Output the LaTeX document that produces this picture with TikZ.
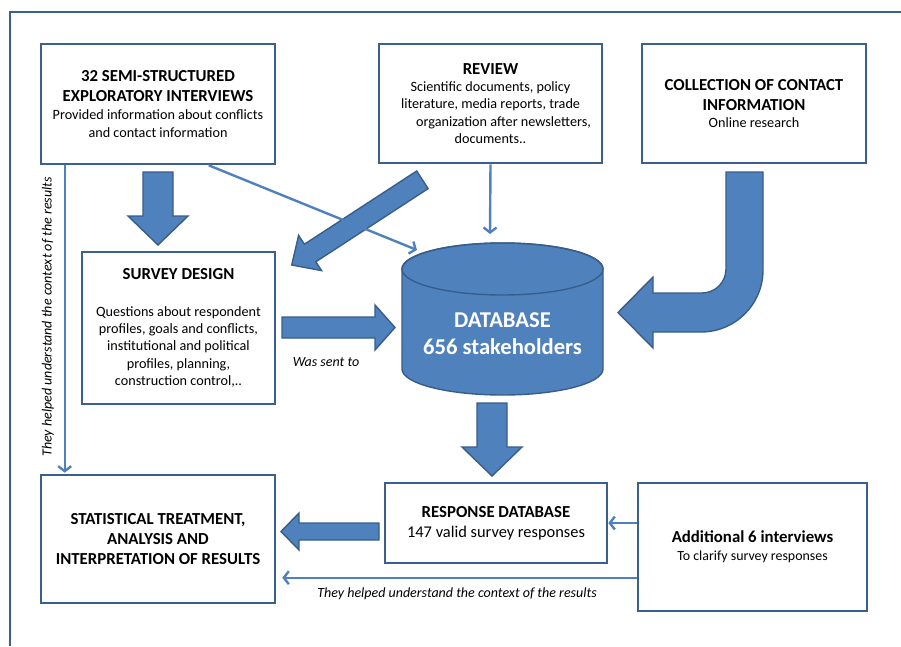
\documentclass[tikz,border=0pt]{standalone}
\usepackage{fontspec}
\setmainfont{Carlito}
\usetikzlibrary{arrows.meta,calc}
\definecolor{fillb}{HTML}{4F81BD}
\definecolor{edgeb}{HTML}{385D8A}
\definecolor{boxb}{HTML}{3C5F8E}
\newcommand\boxtitle{\bfseries\fontsize{16.8}{20}\selectfont}
\newcommand\boxbody{\mdseries\fontsize{14.2}{17.4}\selectfont}
\begin{document}
\begin{tikzpicture}[x=1pt,y=-1pt,
  box/.style={draw=boxb, line width=2.6pt, fill=white, align=center, inner sep=2pt, font=\boxbody},
  blockarr/.style={fill=fillb, draw=edgeb, line width=1.4pt, line join=miter},
  thinarr/.style={draw=fillb, line width=2.4pt, -{Straight Barb[length=5pt,width=13pt]}},
  lbl/.style={font=\fontsize{14}{16}\selectfont\itshape, inner sep=0pt}]
\useasboundingbox (0,0) rectangle (901,646);
% frame
\draw[boxb, line width=2.4pt] (10,646) -- (10,12) -- (901,12);

% boxes
\node[box, minimum width=234pt, minimum height=120pt] (intv) at (158,104)
  {{\boxtitle 32 SEMI-STRUCTURED}\\[2.5pt] {\boxtitle EXPLORATORY INTERVIEWS}\\[1pt] Provided information about conflicts\\ and contact information};
\node[box, minimum width=223pt, minimum height=119pt] (review) at (490.5,103.5)
  {{\boxtitle REVIEW}\\ Scientific documents, policy\\ literature, media reports, trade\\ \hspace*{26pt}organization after newsletters,\\ documents..};
\node[box, minimum width=224pt, minimum height=119pt] (contact) at (754,103.5)
  {{\boxtitle COLLECTION OF CONTACT}\\[2.5pt] {\boxtitle INFORMATION}\\ Online research};
\node[box, minimum width=193pt, minimum height=152pt] (survey) at (178.5,328)
  {{\boxtitle SURVEY DESIGN}\\[19pt] Questions about respondent\\ profiles, goals and conflicts,\\ institutional and political\\ profiles, planning,\\ construction control,..};
\node[box, font=\boxtitle, minimum width=234pt, minimum height=128pt] (stat) at (158,539)
  {STATISTICAL TREATMENT,\\ ANALYSIS AND\\ INTERPRETATION OF RESULTS};
\node[box, font=\mdseries\fontsize{16.4}{20}\selectfont, minimum width=222pt, minimum height=80pt] (resp) at (496,523)
  {{\boxtitle RESPONSE DATABASE}\\ 147 valid survey responses};
\node[box, minimum width=229pt, minimum height=128pt] (addl) at (752.5,547)
  {{\bfseries\fontsize{16.8}{19}\selectfont Additional 6 interviews}\\[1pt] {\fontsize{13.9}{17}\selectfont To clarify survey responses}};

% database cylinder
\path[fill=fillb, draw=edgeb, line width=1.4pt]
  (402,269) -- (402,369) arc[start angle=180, end angle=360, x radius=100.5pt, y radius=26pt]
  -- (603,269) arc[start angle=0, end angle=180, x radius=100.5pt, y radius=26pt] -- cycle;
\draw[edgeb, line width=1.4pt] (502.5,269) ellipse [x radius=100.5pt, y radius=26pt];
\node[font=\bfseries\fontsize{22.6}{27}\selectfont, text=white, align=center] (db) at (502.5,334)
  {DATABASE\\ 656 stakeholders};
\coordinate (dbtop) at (490,234);
\coordinate (dbleft) at (417,250);

% block arrows
\path[blockarr] (143,172) -- (173,172) -- (173,216) -- (188,216) -- (158,245) -- (128,216) -- (143,216) -- cycle;
\path[blockarr] (477,403) -- (507,403) -- (507,447) -- (522,447) -- (492,476) -- (462,447) -- (477,447) -- cycle;
\path[blockarr] (282,317) -- (375,317) -- (375,305) -- (395,327.5) -- (375,350) -- (375,338) -- (282,338) -- cycle;
\path[blockarr] (379,523) -- (299,523) -- (299,513) -- (281,531.5) -- (299,550) -- (299,540) -- (379,540) -- cycle;
\path[blockarr] (416.7,171.0) -- (304.4,244.2) -- (298.6,235.4) -- (291.7,265) -- (321.6,270.6) -- (315.8,261.8) -- (428.1,188.6) -- cycle;
\path[blockarr] (726,172) -- (763,172) -- (763,270)
  arc[start angle=0, end angle=-90, radius=62pt] -- (653,332) -- (653,348) -- (618,312.5)
  -- (653,277) -- (653,293) -- (702,293) arc[start angle=-90, end angle=0, radius=24pt] -- cycle;

% thin arrows
\draw[thinarr] ($(intv.south west)+(25,0)$) -- ($(stat.north west)+(25,-1)$);
\draw[thinarr] ($(intv.south west)+(169,0)$) -- (dbleft);
\draw[thinarr] (review.south) -- (dbtop);
\draw[thinarr] (resp.east -| addl.west) -- (resp.east);
\coordinate (lowstart) at ($(addl.north west)+(0,96)$);
\draw[thinarr, shorten >=6pt] (lowstart) -- (lowstart -| stat.east);

% labels
\node[lbl, rotate=90] (lblv) at (48,317) {They helped understand the context of the results};
\node[lbl] (lblh) at (457,594) {They helped understand the context of the results};
\node[lbl] (sent) at (326,362) {Was sent to};
\end{tikzpicture}
\end{document}
